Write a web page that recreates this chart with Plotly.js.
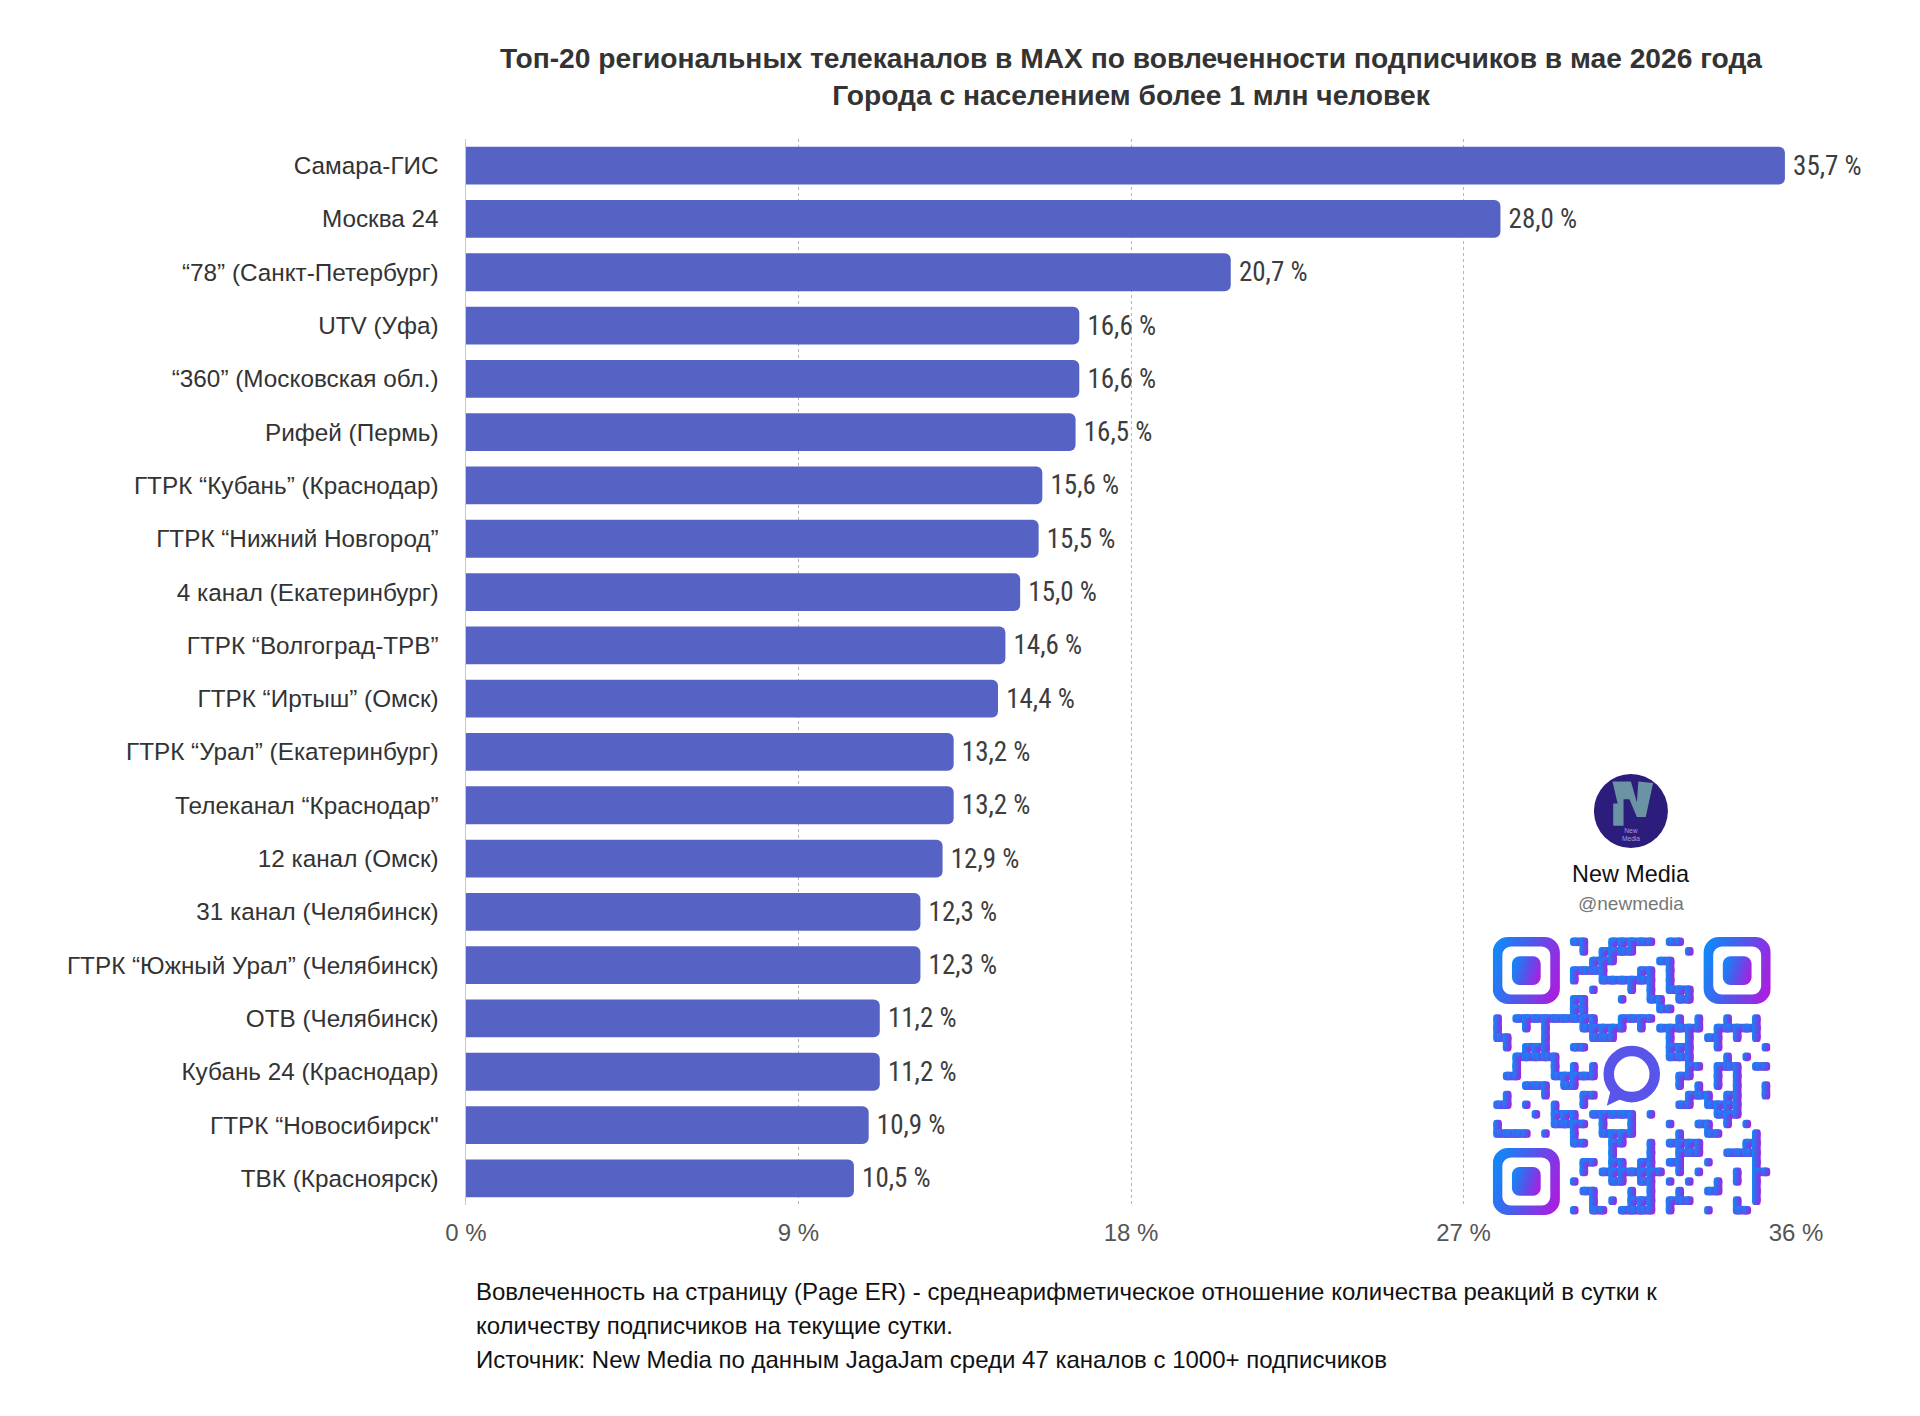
<!DOCTYPE html>
<html>
<head>
<meta charset="utf-8">
<script src="https://cdn.plot.ly/plotly-3.0.1.min.js"></script>
<style>
html,body{margin:0;padding:0;background:#fff;}
#chart{width:1920px;height:1416px;}
</style>
</head>
<body>
<div id="chart"></div>
<script>
// ---- data ----
const categories = [
  'Самара-ГИС',
  'Москва 24',
  '“78” (Санкт-Петербург)',
  'UTV (Уфа)',
  '“360” (Московская обл.)',
  'Рифей (Пермь)',
  'ГТРК “Кубань” (Краснодар)',
  'ГТРК “Нижний Новгород”',
  '4 канал (Екатеринбург)',
  'ГТРК “Волгоград-ТРВ”',
  'ГТРК “Иртыш” (Омск)',
  'ГТРК “Урал” (Екатеринбург)',
  'Телеканал “Краснодар”',
  '12 канал (Омск)',
  '31 канал (Челябинск)',
  'ГТРК “Южный Урал” (Челябинск)',
  'ОТВ (Челябинск)',
  'Кубань 24 (Краснодар)',
  'ГТРК “Новосибирск"',
  'ТВК (Красноярск)'
];
const engagement = [35.7, 28.0, 20.7, 16.6, 16.6, 16.5, 15.6, 15.5, 15.0, 14.6,
                    14.4, 13.2, 13.2, 12.9, 12.3, 12.3, 11.2, 11.2, 10.9, 10.5];
const xTickVals = [0, 9, 18, 27, 36];
const xTickLabels = ['0 %', '9 %', '18 %', '27 %', '36 %'];
const titleLines = [
  'Топ-20 региональных телеканалов в MAX по вовлеченности подписчиков в мае 2026 года',
  'Города с населением более 1 млн человек'
];
const footnoteLines = [
  'Вовлеченность на страницу (Page ER) - среднеарифметическое отношение количества реакций в сутки к',
  'количеству подписчиков на текущие сутки.',
  'Источник: New Media по данным JagaJam среди 47 каналов с 1000+ подписчиков'
];

const valueLabels = engagement.map(v => v.toFixed(1).replace('.', ',') + ' %');

// ---- decorative QR-like badge (SVG) ----
function qrSvg() {
  const N = 29;
  let s = '<svg xmlns="http://www.w3.org/2000/svg" viewBox="0 0 29 29" width="580" height="580" shape-rendering="geometricPrecision">';
  s += '<defs><linearGradient id="g" x1="0" y1="0.3" x2="1" y2="0.6">' +
       '<stop offset="0" stop-color="#1188f8"/><stop offset="0.45" stop-color="#4a5cec"/>' +
       '<stop offset="1" stop-color="#a81fe0"/></linearGradient></defs><g fill="url(#g)">';
  const finder = (x, y) =>
    '<path fill-rule="evenodd" d="M' + (x + 1.6) + ' ' + y + 'h3.8a1.6 1.6 0 0 1 1.6 1.6v3.8a1.6 1.6 0 0 1 -1.6 1.6h-3.8a1.6 1.6 0 0 1 -1.6 -1.6v-3.8a1.6 1.6 0 0 1 1.6 -1.6z' +
    'M' + (x + 1.9) + ' ' + (y + 1) + 'h3.2a0.9 0.9 0 0 1 0.9 0.9v3.2a0.9 0.9 0 0 1 -0.9 0.9h-3.2a0.9 0.9 0 0 1 -0.9 -0.9v-3.2a0.9 0.9 0 0 1 0.9 -0.9z"/>' +
    '<rect x="' + (x + 2) + '" y="' + (y + 2) + '" width="3" height="3" rx="0.8"/>';
  s += finder(0, 0) + finder(22, 0) + finder(0, 22);
  const blocked = (i, j) => (i < 8 && j < 8) || (i < 8 && j > 20) || (i > 20 && j < 8) ||
                            (i >= 11 && i <= 17 && j >= 11 && j <= 17) || i >= N || j >= N;
  const on = (i, j) => {
    if (blocked(i, j)) return false;
    let h = (Math.imul(i + 1, 374761393) + Math.imul(j + 1, 668265263)) | 0;
    h = Math.imul(h ^ (h >>> 13), 1274126177);
    h ^= h >>> 16;
    return ((h >>> 0) % 100) < 46;
  };
  for (let i = 0; i < N; i++) {
    for (let j = 0; j < N; j++) {
      if (!on(i, j)) continue;
      s += '<rect x="' + (j + 0.05) + '" y="' + (i + 0.05) + '" width="0.9" height="0.9" rx="0.32"/>';
      if (on(i, j + 1)) s += '<rect x="' + (j + 0.45) + '" y="' + (i + 0.05) + '" width="1.1" height="0.9"/>';
      if (on(i + 1, j)) s += '<rect x="' + (j + 0.05) + '" y="' + (i + 0.45) + '" width="0.9" height="1.1"/>';
    }
  }
  s += '</g><circle cx="14.5" cy="14.3" r="2.4" fill="none" stroke="#5a55ea" stroke-width="1.1"/>' +
       '<path d="M12.4 15.6 l-0.5 2.0 l1.9 -0.9z" fill="#5a55ea"/></svg>';
  return 'data:image/svg+xml;charset=utf-8,' + encodeURIComponent(s);
}
function logoSvg() {
  const s = '<svg xmlns="http://www.w3.org/2000/svg" viewBox="0 0 100 100" width="200" height="200">' +
    '<circle cx="50" cy="50" r="50" fill="#2c1c7c"/>' +
    '<path d="M25 10 L50 10 L58 38 L60 10 L80 12 L70 58 L58 58 L48 34 L40 34 L40 70 L26 70 L26 40 L32 40 Z" fill="#6a93a3"/>' +
    '<text x="50" y="80" font-size="9" text-anchor="middle" fill="#a99be0" font-family="Liberation Sans">New</text>' +
    '<text x="50" y="90" font-size="9" text-anchor="middle" fill="#a99be0" font-family="Liberation Sans">Media</text></svg>';
  return 'data:image/svg+xml;charset=utf-8,' + encodeURIComponent(s);
}

const trace = {
  type: 'bar',
  orientation: 'h',
  x: engagement,
  y: categories,
  text: valueLabels.map(t => '\u2009' + t),
  textposition: 'outside',
  cliponaxis: false,
  textfont: {family: '"Liberation Sans Narrow", "Roboto Condensed", "Arial Narrow", Roboto, sans-serif', size: 27, color: '#3d3d3d'},
  marker: {color: '#5763c4', cornerradius: 6},
  hoverinfo: 'none'
};

const footAnn = footnoteLines.map((t, i) => ({
  text: t, xref: 'paper', yref: 'paper',
  x: 0.006, y: -0.0816 - i * 0.0319, xanchor: 'left', yanchor: 'middle',
  showarrow: false, align: 'left',
  font: {family: '"Liberation Sans", Arial, sans-serif', size: 24, color: '#111'}
}));

const layout = {
  width: 1920, height: 1416,
  paper_bgcolor: '#fff', plot_bgcolor: '#fff',
  margin: {l: 466, r: 124, t: 139, b: 211},
  showlegend: false,
  bargap: 0.29,
  title: {
    text: '<b>' + titleLines.join('<br>') + '</b>',
    x: 0.5, xref: 'paper', xanchor: 'center',
    y: 1 - 68 / 1416, yref: 'container', yanchor: 'top',
    font: {family: '"Liberation Sans", Arial, sans-serif', size: 28.2, color: '#333'}
  },
  xaxis: {
    range: [0, 36],
    tickvals: xTickVals, ticktext: xTickLabels,
    showgrid: true, gridcolor: '#b5b5b5', griddash: 'dot', gridwidth: 1,
    zeroline: false, showline: false, ticks: '',
    ticklabelstandoff: 11,
    tickfont: {family: '"Liberation Sans", Arial, sans-serif', size: 24, color: '#555'},
    fixedrange: true
  },
  yaxis: {
    type: 'category', autorange: 'reversed',
    showgrid: false, zeroline: false,
    showline: true, linecolor: '#c8c8c8', linewidth: 1.5,
    ticks: '', ticklabelstandoff: 21,
    tickfont: {family: '"Liberation Sans", Arial, sans-serif', size: 24.3, color: '#333'},
    fixedrange: true
  },
  images: [
    {source: qrSvg(), xref: 'paper', yref: 'paper', x: 0.772, y: 0.2514,
     sizex: 0.209, sizey: 0.2608, xanchor: 'left', yanchor: 'top', sizing: 'stretch', layer: 'above'},
    {source: logoSvg(), xref: 'paper', yref: 'paper', x: 0.8481, y: 0.4043,
     sizex: 0.0556, sizey: 0.0694, xanchor: 'left', yanchor: 'top', sizing: 'stretch', layer: 'above'}
  ],
  annotations: footAnn.concat([
    {text: 'New Media', xref: 'paper', yref: 'paper', x: 0.876, y: 0.3105,
     xanchor: 'center', yanchor: 'middle', showarrow: false,
     font: {family: '"Liberation Sans", Arial, sans-serif', size: 23.4, color: '#111', weight: 500}},
    {text: '@newmedia', xref: 'paper', yref: 'paper', x: 0.876, y: 0.2824,
     xanchor: 'center', yanchor: 'middle', showarrow: false,
     font: {family: '"Liberation Sans", Arial, sans-serif', size: 19, color: '#777'}}
  ])
};

Plotly.newPlot('chart', [trace], layout, {displayModeBar: false, staticPlot: true});
</script>
</body>
</html>
